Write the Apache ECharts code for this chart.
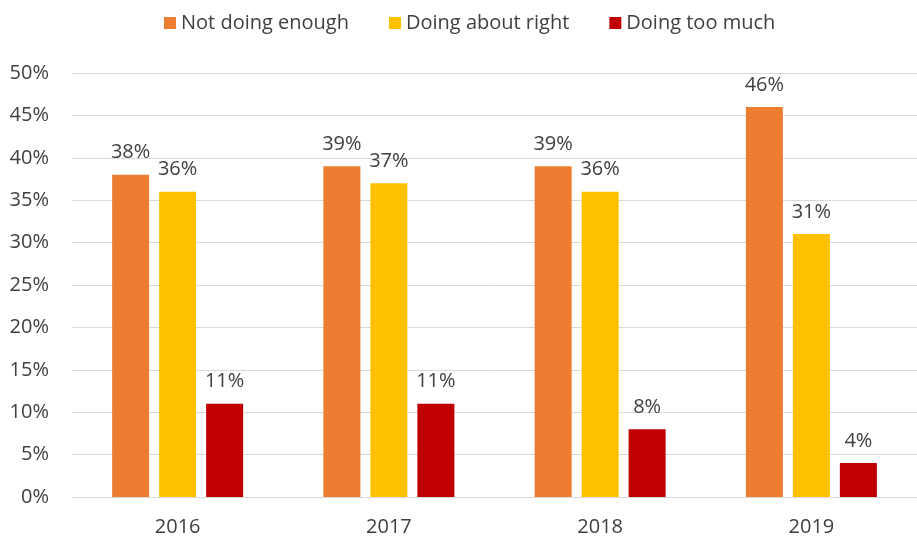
<!DOCTYPE html>
<html>
<head>
<meta charset="utf-8">
<script src="https://cdn.jsdelivr.net/npm/echarts@6/dist/echarts.min.js"></script>
<style>
  html, body { margin: 0; padding: 0; background: #fff; }
  #main { width: 917px; height: 537px; }
</style>
</head>
<body>
<div id="main"></div>
<script>
// chart data
const years = ['2016', '2017', '2018', '2019'];
const notEnough = [38, 39, 39, 46];
const aboutRight = [36, 37, 36, 31];
const tooMuch = [11, 11, 8, 4];
const seriesNames = ['Not doing enough', 'Doing about right', 'Doing too much'];
const colors = ['#ED7D31', '#FFC000', '#C00000'];

const textColor = '#404040';
const fontFamily = '"Open Sans", "Liberation Sans", sans-serif';

const chart = echarts.init(document.getElementById('main'));

function makeSeries(name, data, color) {
    return {
        name: name,
        type: 'bar',
        data: data,
        barWidth: 37,
        barGap: '27%',
        itemStyle: { color: color },
        label: {
            show: true,
            position: 'top',
            distance: 12,
            formatter: '{c}%',
            color: textColor,
            fontSize: 20,
            fontFamily: fontFamily
        }
    };
}

chart.setOption({
    animation: false,
    legend: {
        left: 159,
        top: 8,
        itemWidth: 12,
        itemHeight: 12,
        itemGap: 40,
        icon: 'rect',
        data: seriesNames,
        textStyle: { color: textColor, fontSize: 20, fontFamily: fontFamily }
    },
    grid: {
        left: 72,
        top: 73,
        width: 854,
        bottom: 40,
        containLabel: false
    },
    xAxis: {
        type: 'category',
        data: years,
        axisLine: { lineStyle: { color: '#d9d9d9', width: 1 } },
        axisTick: { show: false },
        axisLabel: {
            color: textColor,
            fontSize: 20,
            fontFamily: fontFamily,
            margin: 20
        }
    },
    yAxis: {
        type: 'value',
        min: 0,
        max: 50,
        interval: 5,
        axisLine: { show: false },
        axisTick: { show: false },
        splitLine: { lineStyle: { color: '#d9d9d9', width: 1 } },
        axisLabel: {
            formatter: '{value}%',
            color: textColor,
            fontSize: 20,
            fontFamily: fontFamily,
            margin: 23
        }
    },
    series: [
        makeSeries(seriesNames[0], notEnough, colors[0]),
        makeSeries(seriesNames[1], aboutRight, colors[1]),
        makeSeries(seriesNames[2], tooMuch, colors[2])
    ]
});
</script>
</body>
</html>
